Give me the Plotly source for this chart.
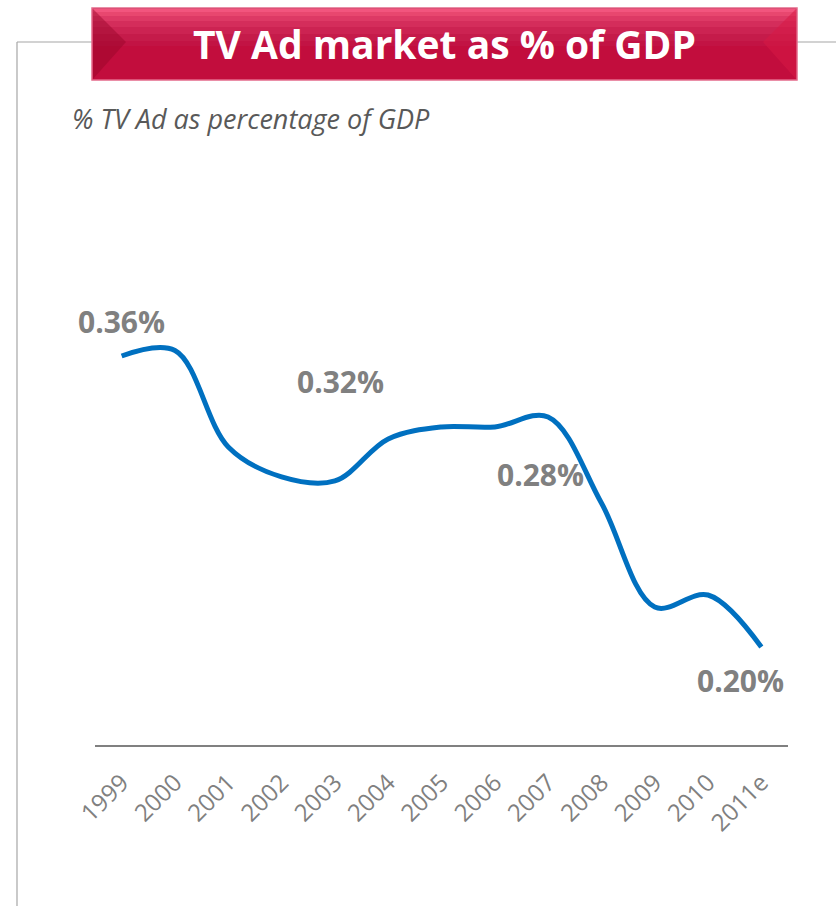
import plotly.graph_objects as go

# ---------------- data ----------------
years = ["1999", "2000", "2001", "2002", "2003", "2004", "2005",
         "2006", "2007", "2008", "2009", "2010", "2011e"]
tv_ad_share = [0.360, 0.363, 0.310, 0.2935, 0.2913, 0.3144, 0.321,
               0.321, 0.3265, 0.2792, 0.222, 0.2286, 0.200]
label_years = ["1999", "2005", "2008", "2011e"]
label_texts = ["0.36%", "0.32%", "0.28%", "0.20%"]
label_shift = [(0, 35), (-101, 45), (-61, 28), (-21, -33)]  # pixel offsets

title_text = "TV Ad market as % of GDP"
subtitle_text = "% TV Ad as percentage of GDP"

# ---------------- layout geometry ----------------
W, H = 836, 906
L, R, T, B = 95, 788, 150, 746   # plot area in pixels


def px(x):
    return (x - L) / (R - L)


def py(y):
    return (B - y) / (B - T)


xi = list(range(len(years)))

fig = go.Figure()
fig.add_trace(go.Scatter(
    x=xi, y=tv_ad_share, mode="lines",
    line=dict(color="#0070C0", width=5, shape="spline", smoothing=1.0),
    hoverinfo="skip", showlegend=False,
))

annotations = []
for yr, txt, (dx, dy) in zip(label_years, label_texts, label_shift):
    i = years.index(yr)
    annotations.append(dict(
        x=i, y=tv_ad_share[i], xref="x", yref="y", text=txt,
        showarrow=False, xshift=dx, yshift=dy,
        font=dict(family="Open Sans", size=30, color="#808080", weight="bold"),
    ))

# title and subtitle
annotations.append(dict(
    x=px(444), y=py(44), xref="paper", yref="paper", text="<b>" + title_text + "</b>",
    showarrow=False, xanchor="center", yanchor="middle",
    font=dict(family="Open Sans", size=39, color="white"),
))
annotations.append(dict(
    x=px(70), y=py(118), xref="paper", yref="paper", text="<i>" + subtitle_text + "</i>",
    showarrow=False, xanchor="left", yanchor="middle",
    font=dict(family="Open Sans", size=27, color="#595959"),
))

shapes = []
# frame lines
frame = "#A6A6A6"
shapes.append(dict(type="line", xref="paper", yref="paper", x0=px(17), x1=px(17),
                   y0=py(42), y1=py(910), line=dict(color=frame, width=1.2)))
shapes.append(dict(type="line", xref="paper", yref="paper", x0=px(17), x1=px(92),
                   y0=py(42), y1=py(42), line=dict(color=frame, width=1.2)))
shapes.append(dict(type="line", xref="paper", yref="paper", x0=px(797), x1=px(840),
                   y0=py(42), y1=py(42), line=dict(color=frame, width=1.2)))

# banner (stepped gradient)
bx0, bx1, by0, by1 = 92, 797, 8, 80
shapes.append(dict(type="rect", xref="paper", yref="paper", x0=px(bx0), x1=px(bx1),
                   y0=py(by1), y1=py(by0), fillcolor="#C20D3D",
                   line=dict(color="#E46A8A", width=1.5), layer="above"))
bands = [(9, 12, "#F2557E"), (12, 16, "#E8476F"), (16, 21, "#DD3965"),
         (21, 27, "#D42D5B"), (27, 34, "#CC2352"), (34, 41, "#C51B4A"),
         (41, 46, "#C21344")]
for y0, y1, c in bands:
    shapes.append(dict(type="rect", xref="paper", yref="paper", x0=px(bx0 + 1), x1=px(bx1 - 1),
                       y0=py(y1), y1=py(y0), fillcolor=c, line=dict(width=0), layer="above"))
# bevel triangles
shapes.append(dict(type="path", xref="paper", yref="paper",
                   path=f"M {px(bx0+1)} {py(by0+1)} L {px(126)} {py(42)} L {px(bx0+1)} {py(by1-1)} Z",
                   fillcolor="rgba(150,5,40,0.45)", line=dict(width=0), layer="above"))
shapes.append(dict(type="path", xref="paper", yref="paper",
                   path=f"M {px(bx1-1)} {py(by0+1)} L {px(763)} {py(42)} L {px(bx1-1)} {py(by1-1)} Z",
                   fillcolor="rgba(215,25,70,0.55)", line=dict(width=0), layer="above"))
# axis baseline
shapes.append(dict(type="line", xref="paper", yref="paper", x0=0, x1=1, y0=0, y1=0,
                   line=dict(color="#808080", width=2)))

fig.update_layout(
    width=W, height=H,
    margin=dict(l=L, r=W - R, t=T, b=H - B, pad=0),
    paper_bgcolor="white", plot_bgcolor="white",
    xaxis=dict(range=[-0.5, len(years) - 0.5], tickvals=xi, ticktext=years,
               tickangle=-45, showgrid=False, zeroline=False, showline=False,
               ticks="outside", ticklen=12, tickcolor="rgba(0,0,0,0)",
               tickfont=dict(family="Open Sans", size=24, color="#808080")),
    yaxis=dict(range=[0.36 - (B - 356) / 1819, 0.36 + (356 - T) / 1819],
               showgrid=False, zeroline=False, showline=False, showticklabels=False),
    shapes=shapes, annotations=annotations, showlegend=False,
)

fig.write_html("out.html")
